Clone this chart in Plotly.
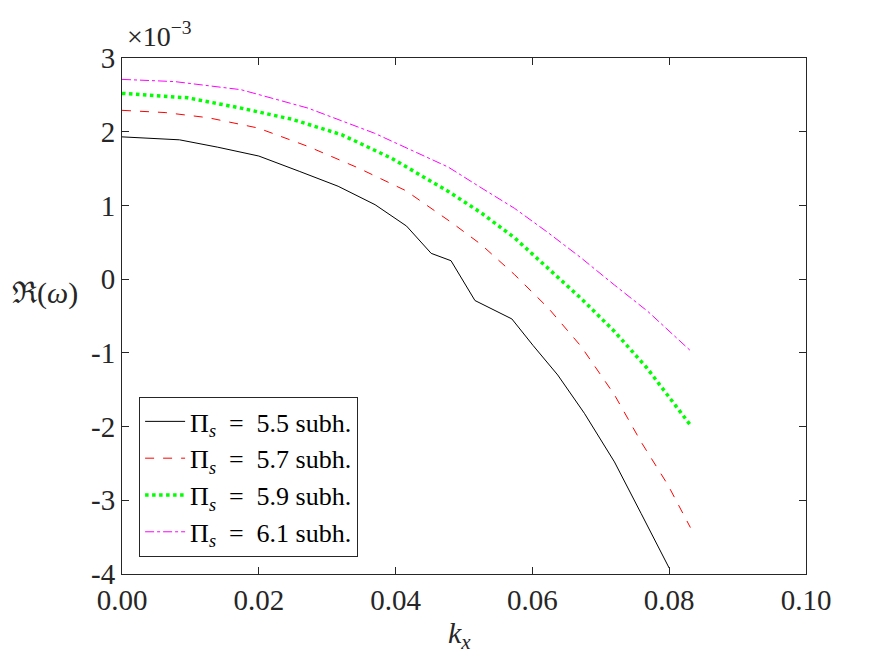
import plotly.graph_objects as go

# Data (Re(omega) in units of 1e-3)
kx_55 = [0, 0.0084, 0.014, 0.020, 0.026, 0.0316, 0.037, 0.0416, 0.0452, 0.0481,
         0.0516, 0.057, 0.0601, 0.0637, 0.0676, 0.072, 0.0759, 0.080]
re_55 = [1.93, 1.89, 1.79, 1.67, 1.46, 1.26, 1.01, 0.72, 0.35, 0.25,
         -0.29, -0.54, -0.90, -1.30, -1.82, -2.48, -3.18, -3.92]

kx_57 = [0, 0.0063, 0.0126, 0.0199, 0.0272, 0.0345, 0.0415, 0.0483, 0.0525,
         0.0574, 0.0623, 0.0671, 0.072, 0.0759, 0.0798, 0.0831]
re_57 = [2.29, 2.26, 2.19, 2.05, 1.80, 1.51, 1.20, 0.76, 0.47,
         0.06, -0.39, -0.91, -1.57, -2.21, -2.79, -3.37]

kx_59 = [0, 0.0096, 0.0174, 0.0248, 0.0321, 0.0394, 0.0477, 0.0525, 0.0574,
         0.0623, 0.0671, 0.072, 0.0767, 0.0831]
re_59 = [2.52, 2.46, 2.32, 2.17, 1.96, 1.64, 1.19, 0.90, 0.56,
         0.15, -0.26, -0.71, -1.20, -1.98]

kx_61 = [0, 0.0077, 0.0174, 0.0272, 0.0369, 0.0477, 0.0525, 0.0574, 0.0623,
         0.0671, 0.072, 0.0769, 0.0831]
re_61 = [2.71, 2.68, 2.57, 2.32, 1.98, 1.52, 1.24, 0.96, 0.63,
         0.29, -0.08, -0.44, -0.97]

pi_values = ["5.5", "5.7", "5.9", "6.1"]
names = ["Π<sub><i>s</i></sub>\u00a0\u00a0=\u00a0\u00a0" + v + "\u00a0subh." for v in pi_values]

x_ticks = [0, 0.02, 0.04, 0.06, 0.08, 0.10]
x_ticktext = ["0.00", "0.02", "0.04", "0.06", "0.08", "0.10"]
y_ticks = [-4, -3, -2, -1, 0, 1, 2, 3]
y_ticktext = ["-4", "-3", "-2", "-1", "0", "1", "2", "3"]

FONT = "Liberation Serif"
AX = "#262626"

fig = go.Figure()
fig.add_trace(go.Scatter(x=kx_55, y=re_55, mode="lines", name=names[0],
                         line=dict(color="black", width=1, dash="solid")))
fig.add_trace(go.Scatter(x=kx_57, y=re_57, mode="lines", name=names[1],
                         line=dict(color="#FF0000", width=1, dash="dash")))
fig.add_trace(go.Scatter(x=kx_59, y=re_59, mode="lines", name=names[2],
                         line=dict(color="#00FF00", width=3.5, dash="dot")))
fig.add_trace(go.Scatter(x=kx_61, y=re_61, mode="lines", name=names[3],
                         line=dict(color="#FF00FF", width=1, dash="dashdot")))

axis_common = dict(showgrid=False, zeroline=False, showline=True, linecolor=AX,
                   linewidth=1, mirror="ticks", ticks="inside", ticklen=7,
                   tickcolor=AX, tickfont=dict(family=FONT, size=29, color=AX))

fig.update_xaxes(range=[0, 0.1], tickvals=x_ticks, ticktext=x_ticktext, **axis_common)
fig.update_yaxes(range=[-4, 3], tickvals=y_ticks, ticktext=y_ticktext, **axis_common)

fig.update_layout(
    width=881, height=653,
    margin=dict(l=114, r=83, t=50, b=87),
    plot_bgcolor="white", paper_bgcolor="white",
    font=dict(family=FONT, color=AX),
    showlegend=True,
    legend=dict(x=0.025, y=0.033, xanchor="left", yanchor="bottom",
                bordercolor=AX, borderwidth=1, bgcolor="white",
                font=dict(family=FONT, size=26, color="black"),
                tracegroupgap=0, itemwidth=40),
    annotations=[
        dict(text="<i>k</i><sub><i>x</i></sub>", xref="paper", yref="paper",
             x=0.493, y=-0.118, xanchor="center", yanchor="middle", showarrow=False,
             font=dict(family=FONT, size=30, color=AX)),
        dict(text="ℜ(<i>ω</i>)", xref="paper", yref="paper",
             x=-0.113, y=0.545, xanchor="center", yanchor="middle", showarrow=False,
             font=dict(family=FONT, size=30, color=AX)),
        dict(text="×10<sup>−3</sup>", xref="paper", yref="paper",
             x=0.004, y=1.045, xanchor="left", yanchor="middle", showarrow=False,
             font=dict(family=FONT, size=28, color=AX)),
    ],
)

fig.write_html("out.html")
